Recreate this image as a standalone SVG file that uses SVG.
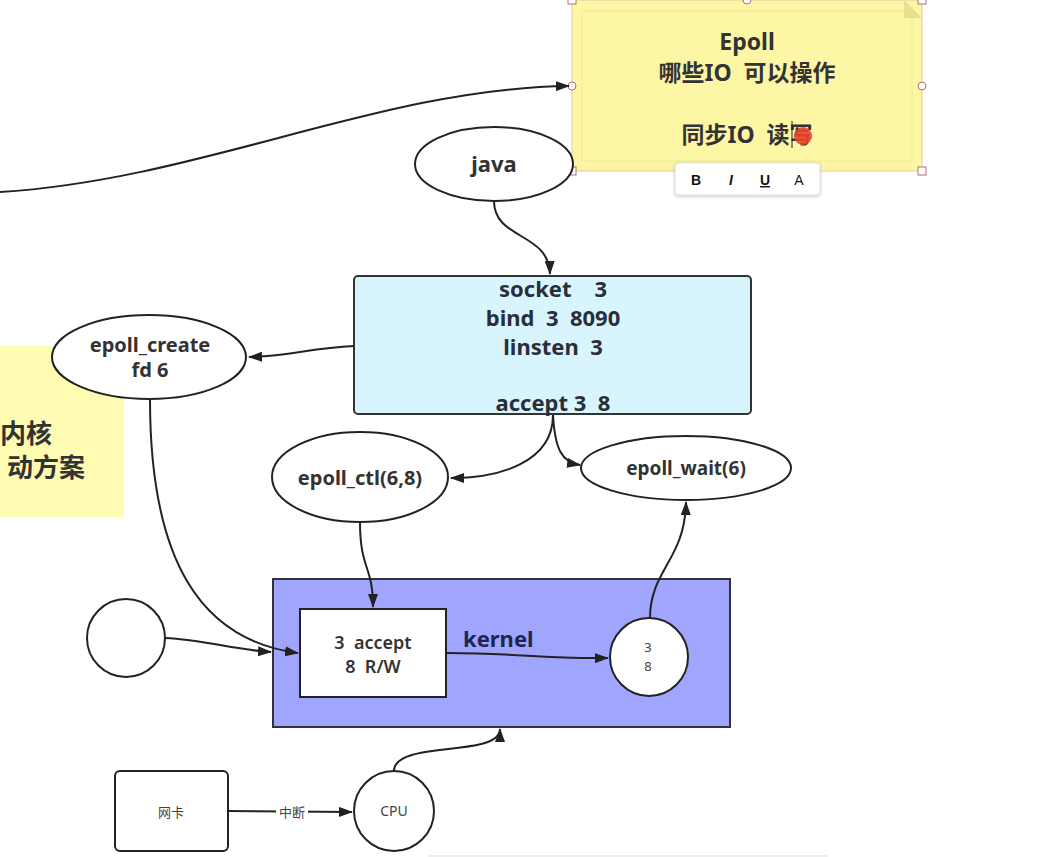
<svg xmlns="http://www.w3.org/2000/svg" width="1037" height="857" viewBox="0 0 1037 857">
<defs>
<style>
.b{font-family:"Noto Sans","Noto Sans CJK SC",sans-serif;font-weight:bold;fill:#333;text-anchor:middle}
.n{font-family:"Noto Sans","Noto Sans CJK SC",sans-serif;fill:#444;text-anchor:middle}
.sh{fill:#fff;stroke:#222;stroke-width:2}
.c{fill:none;stroke:#222;stroke-width:2;marker-end:url(#ah)}
.h{fill:#fff;stroke:#b07070;stroke-width:1}
</style>
<marker id="ah" viewBox="0 0 14 10" refX="13" refY="5" markerWidth="14" markerHeight="10" markerUnits="userSpaceOnUse" orient="auto">
<path d="M0,0 L14,5 L0,10 Z" fill="#222"/>
</marker>
<filter id="shadow" x="-10%" y="-20%" width="120%" height="150%">
<feDropShadow dx="0" dy="1" stdDeviation="1.5" flood-color="#000" flood-opacity="0.25"/>
</filter>
</defs>
<rect width="1037" height="857" fill="#fff"/>

<g id="left-note">
<rect x="0" y="346" width="124" height="171" fill="#fffbb3"/>
<text class="b" x="0" y="443" style="text-anchor:start;font-size:26px">内核</text>
<text class="b" x="7" y="477" style="text-anchor:start;font-size:26px">动方案</text>
</g>

<g id="epoll-note">
<rect x="572" y="0" width="350" height="171" fill="#fdf6a5" stroke="#e8c8a0" stroke-width="1"/>
<rect x="582" y="11" width="330" height="150" fill="none" stroke="#f3e890" stroke-width="1"/>
<path d="M904,0 L922,18 L904,18 Z" fill="#e6e090"/>
<text class="b" x="747" y="50" style="font-size:23px">Epoll</text>
<text class="b" x="747" y="81" style="font-size:23px" xml:space="preserve">哪些IO  可以操作</text>
<text class="b" x="747" y="143" style="font-size:23px" xml:space="preserve">同步IO  读写</text>
<line x1="792" y1="121" x2="792" y2="148" stroke="#222" stroke-width="1"/>
<circle cx="803" cy="136" r="9" fill="#e8442a" opacity="0.9"/>
<rect x="568" y="-4" width="8" height="8" class="h"/>
<rect x="918" y="-4" width="8" height="8" class="h"/>
<rect x="568" y="167" width="8" height="8" class="h"/>
<rect x="918" y="167" width="8" height="8" class="h"/>
<circle cx="747" cy="0" r="4" class="h"/>
<circle cx="572" cy="86" r="4" class="h"/>
<circle cx="922" cy="86" r="4" class="h"/>
</g>

<g id="toolbar">
<rect x="675" y="163" width="145" height="32" rx="3" fill="#fff" stroke="#ddd" stroke-width="1" filter="url(#shadow)"/>
<text x="696" y="185" style="font-family:'Liberation Sans',sans-serif;font-weight:bold;font-size:14px;text-anchor:middle" fill="#111">B</text>
<text x="731" y="185" style="font-family:'Liberation Sans',sans-serif;font-weight:bold;font-style:italic;font-size:14px;text-anchor:middle" fill="#111">I</text>
<text x="765" y="185" style="font-family:'Liberation Sans',sans-serif;font-weight:bold;font-size:14px;text-anchor:middle;text-decoration:underline" fill="#111">U</text>
<text x="799" y="185" style="font-family:'Liberation Sans',sans-serif;font-size:14px;text-anchor:middle" fill="#111">A</text>
</g>

<g id="kernel-box">
<rect x="273" y="579" width="457" height="148" fill="#a0a6fd" stroke="#333" stroke-width="2"/>
<text x="463" y="647" style="font-family:'Noto Sans',sans-serif;font-weight:bold;font-size:22px" fill="#1e2650">kernel</text>
</g>

<g id="java">
<ellipse cx="494" cy="164" rx="79" ry="37" class="sh"/>
<text class="b" x="494" y="172" style="font-size:22px">java</text>
</g>

<g id="socket-box">
<rect x="354" y="276" width="397" height="138" rx="4" fill="#d8f5fe" stroke="#333" stroke-width="2"/>
<text class="b" x="553" y="297" style="font-size:22px;fill:#2a2d3a" xml:space="preserve">socket    3</text>
<text class="b" x="553" y="326" style="font-size:22px;fill:#2a2d3a" xml:space="preserve">bind  3  8090</text>
<text class="b" x="553" y="355" style="font-size:22px;fill:#2a2d3a" xml:space="preserve">linsten  3</text>
<text class="b" x="553" y="411" style="font-size:22px;fill:#2a2d3a" xml:space="preserve">accept 3  8</text>
</g>

<g id="epoll-create">
<ellipse cx="149" cy="357" rx="97" ry="42" class="sh"/>
<text class="b" x="150" y="352" style="font-size:20px">epoll_create</text>
<text class="b" x="150" y="377" style="font-size:20px">fd 6</text>
</g>

<g id="epoll-ctl">
<ellipse cx="360" cy="477" rx="88" ry="45" class="sh"/>
<text class="b" x="360" y="485" style="font-size:20px">epoll_ctl(6,8)</text>
</g>

<g id="epoll-wait">
<ellipse cx="686" cy="468" rx="105" ry="32" class="sh"/>
<text class="b" x="686" y="475" style="font-size:19px">epoll_wait(6)</text>
</g>

<g id="fd-table">
<rect x="300" y="609" width="146" height="88" fill="#fff" stroke="#222" stroke-width="2"/>
<text class="b" x="373" y="649" style="font-size:18px;font-weight:600" xml:space="preserve">3  accept</text>
<text class="b" x="373" y="673" style="font-size:18px;font-weight:600" xml:space="preserve">8  R/W</text>
</g>

<g id="ready-circle">
<circle cx="649" cy="657" r="39" class="sh"/>
<text class="n" x="648" y="652" style="font-size:13px">3</text>
<text class="n" x="648" y="671" style="font-size:13px">8</text>
</g>

<g id="empty-circle">
<circle cx="126" cy="638" r="39" class="sh"/>
</g>

<g id="nic">
<rect x="115" y="771" width="113" height="80" rx="5" class="sh"/>
<text class="n" x="171" y="817" style="font-size:13px">网卡</text>
</g>

<g id="cpu">
<circle cx="394" cy="811" r="40" class="sh"/>
<text class="n" x="394" y="816" style="font-size:14px">CPU</text>
</g>

<g id="connectors">
<path class="c" d="M0,192 C200,180 380,88 569,86"/>
<path class="c" d="M494,201 C494,240 549,232 550,274"/>
<path class="c" d="M354,346 C310,348 290,356 249,357"/>
<path class="c" d="M553,415 C553,462 500,478 451,478"/>
<path class="c" d="M553,415 C555,450 562,462 580,465"/>
<path class="c" d="M360,522 C360,570 373,565 373,607"/>
<path class="c" d="M150,399 C150,560 200,640 298,653"/>
<path class="c" d="M165,638 C205,640 235,650 271,652"/>
<path class="c" d="M446,653 C520,653 540,659 608,658"/>
<path class="c" d="M650,618 C650,570 685,560 686,502"/>
<path class="c" d="M394,771 C394,740 500,758 500,729"/>
<path class="c" d="M228,811 L352,812"/>
<rect x="276" y="803" width="32" height="18" fill="#fff"/>
<text class="n" x="292" y="817" style="font-size:13px">中断</text>
</g>
<line x1="428" y1="856" x2="828" y2="856" stroke="#ddd" stroke-width="1"/>
</svg>
